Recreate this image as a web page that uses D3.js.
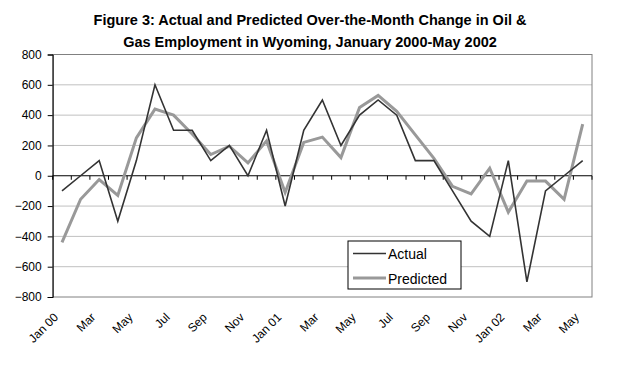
<!DOCTYPE html>
<html>
<head>
<meta charset="utf-8">
<script src="https://cdn.jsdelivr.net/npm/d3@7"></script>
<style>
  body { margin: 0; background: #fff; }
  svg { font-family: "Liberation Sans", Arial, sans-serif; }
</style>
</head>
<body>
<div id="chart"></div>
<script>
// Monthly change, Jan 2000 - May 2002
const months = ['Jan 00','Feb','Mar','Apr','May','Jun','Jul','Aug','Sep','Oct','Nov','Dec',
    'Jan 01','Feb','Mar','Apr','May','Jun','Jul','Aug','Sep','Oct','Nov','Dec',
    'Jan 02','Feb','Mar','Apr','May'];
const actual = [-100, 0, 100, -300, 100, 600, 300, 300, 100, 200, 0, 300,
    -200, 300, 500, 200, 400, 500, 400, 100, 100, -100, -300, -400,
    100, -700, -100, 0, 100];
const predicted = [-440, -155, -25, -130, 250, 440, 400, 275, 140, 195, 85, 230,
    -110, 220, 255, 120, 450, 530, 425, 270, 115, -70, -120, 50,
    -240, -35, -35, -155, 340];
const yTicks = [-800, -600, -400, -200, 0, 200, 400, 600, 800];
const seriesNames = ['Actual', 'Predicted'];

const width = 617, height = 371;
const margin = { top: 54.5, right: 25, bottom: 74, left: 52.7 };
const plotW = width - margin.left - margin.right;
const plotH = height - margin.top - margin.bottom;

const svg = d3.select('#chart')
    .append('svg')
    .attr('width', width)
    .attr('height', height);

// title
svg.append('text')
    .attr('x', 310).attr('y', 25)
    .attr('text-anchor', 'middle')
    .attr('font-size', '14.5px').attr('font-weight', 'bold')
    .text('Figure 3: Actual and Predicted Over-the-Month Change in Oil &');
svg.append('text')
    .attr('x', 310).attr('y', 47)
    .attr('text-anchor', 'middle')
    .attr('font-size', '14.5px').attr('font-weight', 'bold')
    .text('Gas Employment in Wyoming, January 2000-May 2002');

const g = svg.append('g')
    .attr('transform', `translate(${margin.left},${margin.top})`);

const x = d3.scaleBand()
    .domain(d3.range(months.length))
    .range([0, plotW]);

const y = d3.scaleLinear()
    .domain([-800, 800])
    .range([plotH, 0]);

// gridlines
g.selectAll('.grid')
    .data(yTicks.filter(d => d !== 0 && d !== -800 && d !== 800))
    .enter()
    .append('line')
    .attr('x1', 0).attr('x2', plotW)
    .attr('y1', d => y(d)).attr('y2', d => y(d))
    .attr('stroke', '#c0c0c0')
    .attr('stroke-width', 1);

// plot border
g.append('rect')
    .attr('x', 0).attr('y', 0)
    .attr('width', plotW).attr('height', plotH)
    .attr('fill', 'none')
    .attr('stroke', '#808080')
    .attr('stroke-width', 1);

// y axis
const yAxis = g.append('g')
    .call(d3.axisLeft(y).tickValues(yTicks).tickSize(5).tickPadding(6));
yAxis.select('.domain').attr('stroke', '#000');
yAxis.selectAll('text').attr('font-size', '12px').attr('fill', '#000')
    .attr('font-family', '"Liberation Sans", Arial, sans-serif');

// zero line with ticks between categories
g.append('line')
    .attr('x1', 0).attr('x2', plotW)
    .attr('y1', y(0)).attr('y2', y(0))
    .attr('stroke', '#000');
g.selectAll('.xtick')
    .data(d3.range(months.length + 1))
    .enter()
    .append('line')
    .attr('x1', d => d * x.step()).attr('x2', d => d * x.step())
    .attr('y1', y(0)).attr('y2', y(0) + 4)
    .attr('stroke', '#000');

// x labels, every second month
g.selectAll('.xlabel')
    .data(months.map((m, i) => ({ m, i })).filter(d => d.i % 2 === 0))
    .enter()
    .append('text')
    .attr('transform', d => `translate(${x(d.i) + x.bandwidth() / 2 - 3},${plotH + 21}) rotate(-45)`)
    .attr('text-anchor', 'end')
    .attr('font-size', '12px')
    .text(d => d.m);

const line = d3.line()
    .x((d, i) => x(i) + x.bandwidth() / 2)
    .y(d => y(d));

g.append('path')
    .datum(predicted)
    .attr('d', line)
    .attr('fill', 'none')
    .attr('stroke', '#999999')
    .attr('stroke-width', 3);

g.append('path')
    .datum(actual)
    .attr('d', line)
    .attr('fill', 'none')
    .attr('stroke', '#333333')
    .attr('stroke-width', 1.6);

// legend
const legend = svg.append('g').attr('transform', 'translate(348,241)');
legend.append('rect')
    .attr('width', 113).attr('height', 48)
    .attr('fill', '#fff').attr('stroke', '#000');
const legendColors = ['#333333', '#999999'];
const legendWidths = [1.6, 3];
seriesNames.forEach((name, i) => {
    legend.append('line')
        .attr('x1', 5).attr('x2', 38)
        .attr('y1', 12.5 + i * 24.5).attr('y2', 12.5 + i * 24.5)
        .attr('stroke', legendColors[i])
        .attr('stroke-width', legendWidths[i]);
    legend.append('text')
        .attr('x', 40).attr('y', 18 + i * 24.5)
        .attr('font-size', '14px')
        .text(name);
});
</script>
</body>
</html>
